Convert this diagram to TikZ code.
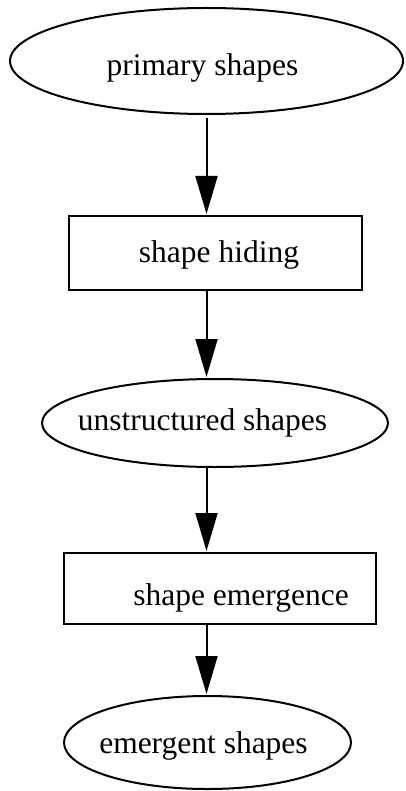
\documentclass[tikz,border=0pt]{standalone}
\usepackage{fontspec}
\setmainfont{Liberation Serif}
\usetikzlibrary{shapes.geometric,arrows.meta}

\begin{document}
\begin{tikzpicture}[x=1pt, y=-1pt, line width=2pt,
  shape node/.style={ellipse,draw,inner sep=0pt},
  process node/.style={rectangle,draw,inner sep=0pt},
  caption/.style={font=\fontsize{31.5}{38}\selectfont}]
\useasboundingbox (0,0) rectangle (406,791);
\begin{scope}[every label/.style={caption}]
\node[shape node,minimum width=393pt,minimum height=106pt,
  label={[xshift=-4pt,yshift=-7pt]center:primary shapes}] (prim) at (206.5,61) {};%1
\node[process node,minimum width=293pt,minimum height=74pt,
  label={[xshift=3.5pt,yshift=-2pt]center:shape hiding}] (hide) at (215.5,253) {};%2
\node[shape node,minimum width=346pt,minimum height=88pt,
  label={[xshift=-12.5pt]center:unstructured shapes}] (unstr) at (215,423) {};%3
\node[process node,minimum width=312pt,minimum height=71pt,
  label={[xshift=21pt,yshift=-9.5pt]center:shape emergence}] (emerg) at (220,588.5) {};%4
\node[shape node,minimum width=287pt,minimum height=93pt,
  label={[xshift=-4pt,yshift=-3.5pt]center:emergent shapes}] (result) at (207.5,742.5) {};%5
\end{scope}
\begin{scope}[every edge/.style={draw=black,-{Triangle[length=38pt,width=22pt]},shorten >=1pt}]
\draw (prim.south) ++(0,3) edge (prim.south |- hide.north);
\draw (prim.south |- hide.south) edge (prim.south |- unstr.north);
\draw (prim.south |- unstr.south) edge (prim.south |- emerg.north);
\draw (prim.south |- emerg.south) edge (prim.south |- result.north);
\end{scope}
\end{tikzpicture}
\end{document}
